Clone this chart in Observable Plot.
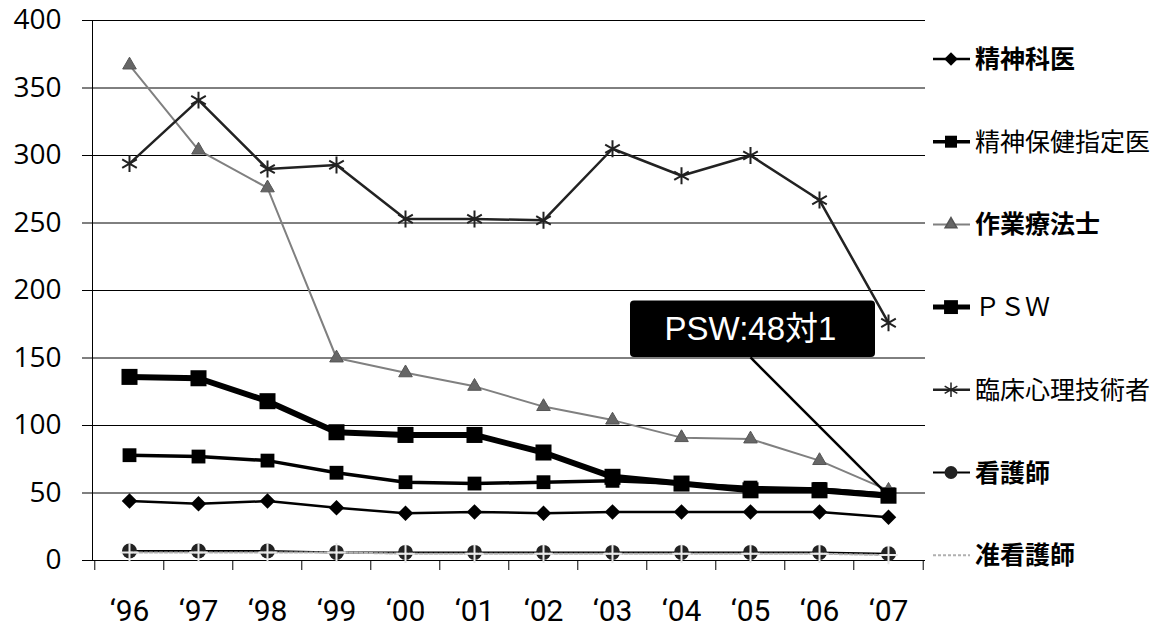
<!DOCTYPE html>
<html><head><meta charset="utf-8">
<script src="https://cdn.jsdelivr.net/npm/d3@7"></script>
<script src="https://cdn.jsdelivr.net/npm/@observablehq/plot@0.6"></script>
<style>body{margin:0;background:#fff}#chart{width:1159px;height:630px}</style>
</head><body><div id="chart"></div>
<script>
// ---- data ----
const years = ["‘96","‘97","‘98","‘99","‘00","‘01","‘02","‘03","‘04","‘05","‘06","‘07"];
const yTicks = [0,50,100,150,200,250,300,350,400];
const psychiatrist = [44,42,44,39,35,36,35,36,36,36,36,32];
const designated   = [78,77,74,65,58,57,58,59,57,54,53,49];
const occupational = [367,304,276,150,139,129,114,104,91,90,74,52];
const psw          = [136,135,118,95,93,93,80,62,57,52,52,48];
const psychologist = [294,341,290,293,253,253,252,305,285,300,267,176];
const nurse        = [7,7,7,6,6,6,6,6,6,6,6,5];
const assocNurse   = [6,6,6,6,5,5,5,5,5,5,5,4];
const seriesNames  = ["精神科医","精神保健指定医","作業療法士","ＰＳＷ","臨床心理技術者","看護師","准看護師"];
const annotations  = [{label:"PSW:48対1", x:"‘05", y:171.3, boxBottom:150.4, boxTop:192.2, target:"‘07", targetValue:48}];

// ---- layout / style ----
const W = 1159, H = 630, mL = 92, mR = 234, mT = 20, mB = 70;
const step = (W - mL - mR) / years.length;
const styles = [
  {stroke:"#000", sw:2.5, symbol:"diamond2", r:7, fill:"#000", dstroke:"none", bold:true},
  {stroke:"#000", sw:3.5, symbol:"square2", r:8.8, fill:"#000", dstroke:"none", bold:false},
  {stroke:"#808080", sw:2, symbol:"triangle2", r:6.5, fill:"#666", dstroke:"#555", bold:true},
  {stroke:"#000", sw:6, symbol:"square2", r:10.2, fill:"#000", dstroke:"none", bold:false},
  {stroke:"#222", sw:2.5, symbol:"asterisk", r:8, fill:"none", dstroke:"#222", bold:false},
  {stroke:"#000", sw:2, symbol:"circle", r:7.5, fill:"#222", dstroke:"none", bold:true},
  {stroke:"#b0b0b0", sw:2, symbol:"plus", r:6, fill:"none", dstroke:"#e8e8e8", bold:true, dash:"3,2"}
];
const legendTop = 59, legendGap = 82.7;
const valueArrays = [psychiatrist, designated, occupational, psw, psychologist, nurse, assocNurse];
const series = seriesNames.map((name, k) => ({name, ...styles[k], ly: legendTop + k * legendGap,
  rows: valueArrays[k].map((v, i) => ({year: years[i], value: v}))}));

const marks = [
  Plot.gridY(yTicks.slice(1), {stroke:"#000", strokeOpacity:1, strokeWidth:1}),
  Plot.ruleY([0], {stroke:"#000", strokeWidth:1}),
  Plot.frame({anchor:"left", stroke:"#000"}),
  Plot.axisY({ticks: yTicks, tickSize: 10, tickPadding: 21, fontSize: 28, fontFamily: "Open Sans, sans-serif", label: null}),
  Plot.axisX({tickSize: 0, tickPadding: 39, fontSize: 30, fontFamily: "Roboto, sans-serif", label: null}),
  Plot.ruleX(years, {x: d => d, y1: 0, y2: 0, insetBottom: -10, dx: -step/2, stroke:"#000"}),
  Plot.ruleX(years.slice(-1), {x: d => d, y1: 0, y2: 0, insetBottom: -10, dx: step/2, stroke:"#000"})
];
for (const s of series) {
  marks.push(Plot.line(s.rows, {x:"year", y:"value", stroke:s.stroke, strokeWidth:s.sw, strokeDasharray:s.dash}));
  marks.push(Plot.dot(s.rows, {x:"year", y:"value", symbol:s.symbol, r:s.r, fill:s.fill, stroke:s.dstroke, strokeWidth: s.symbol==="asterisk"||s.symbol==="plus" ? 2 : 1}));
}
marks.push(
  Plot.link(annotations, {x1:"x", y1:"boxBottom", x2:"target", y2:"targetValue", stroke:"#000", strokeWidth:2.5}),
  Plot.rect(annotations, {x1:"x", x2:"x", y1:"boxBottom", y2:"boxTop", insetLeft:-120, insetRight:-125, rx:4, fill:"#000"}),
  Plot.text(annotations, {x:"x", y:"y", text:"label", fill:"#fff", fontSize:33, fontFamily:"Liberation Sans, Noto Sans CJK JP, sans-serif"})
);

const chart = Plot.plot({
  width: W, height: H, marginLeft: mL, marginRight: mR, marginTop: mT, marginBottom: mB,
  x: {type:"point", domain: years, padding: 0.5},
  y: {domain: [0, 400]},
  style: {background:"#fff", color:"#000"},
  marks
});
document.getElementById("chart").appendChild(chart);

// ---- legend ----
const svg = d3.select(chart);
const symbolMap = {diamond2: d3.symbolDiamond2, square2: d3.symbolSquare2, triangle2: d3.symbolTriangle2,
  asterisk: d3.symbolAsterisk, circle: d3.symbolCircle, plus: d3.symbolPlus};
const lg = svg.append("g").attr("text-anchor", "start");
for (const s of series) {
  const g = lg.append("g").attr("transform", `translate(0,${s.ly})`);
  g.append("line").attr("x1", 933).attr("x2", 970).attr("stroke", s.stroke)
    .attr("stroke-width", s.sw === 6 ? 5 : s.sw).attr("stroke-dasharray", s.dash || null);
  if (s.name !== "准看護師")
    g.append("path").attr("transform", "translate(951,0)")
      .attr("d", d3.symbol(symbolMap[s.symbol], Math.PI * s.r * s.r * 0.75)())
      .attr("fill", s.fill).attr("stroke", s.dstroke === "none" ? null : s.dstroke)
      .attr("stroke-width", 1.5);
  g.append("text").attr("x", 975).attr("dy", "0.36em").attr("text-anchor", "start").text(s.name)
    .attr("font-family", "Noto Sans CJK JP, sans-serif").attr("font-size", 25)
    .attr("font-weight", s.bold ? "bold" : "normal").attr("fill", "#000");
}
</script></body></html>
